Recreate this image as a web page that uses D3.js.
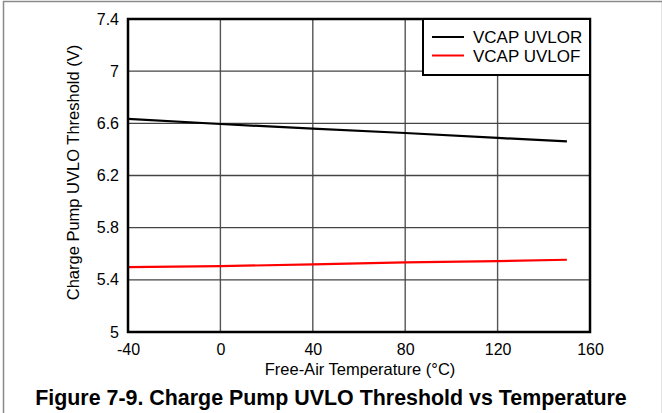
<!DOCTYPE html>
<html>
<head>
<meta charset="utf-8">
<script src="https://cdn.jsdelivr.net/npm/d3@7"></script>
<style>
  body { margin: 0; background: #fff; }
  text { font-family: Arial, "Liberation Sans", sans-serif; fill: #000; }
</style>
</head>
<body>
<div id="chart"></div>
<script>
// Data
var temps = [-40, 0, 40, 80, 120, 150];
var uvlor = [6.634, 6.595, 6.559, 6.526, 6.488, 6.462];
var uvlof = [5.498, 5.505, 5.519, 5.534, 5.544, 5.554];
var xTicks = [-40, 0, 40, 80, 120, 160];
var yTicks = [5, 5.4, 5.8, 6.2, 6.6, 7, 7.4];
var seriesNames = ["VCAP UVLOR", "VCAP UVLOF"];
var seriesColors = ["#000000", "#ff0000"];

var svgWidth = 662, svgHeight = 413;
var margin = { top: 19, right: 72, bottom: 81, left: 128 };
var width = svgWidth - margin.left - margin.right;
var height = svgHeight - margin.top - margin.bottom;

var svg = d3.select("#chart")
  .append("svg")
  .attr("width", svgWidth)
  .attr("height", svgHeight);

// outer frame
svg.append("rect")
  .attr("x", 3.5).attr("y", 1.5)
  .attr("width", svgWidth - 3).attr("height", svgHeight)
  .attr("fill", "none")
  .attr("stroke", "#8a8a8a")
  .attr("stroke-width", 1.5);

var chart = svg.append("g")
  .attr("transform", "translate(" + margin.left + "," + margin.top + ")");

var xScale = d3.scaleLinear().domain([-40, 160]).range([0, width]);
var yScale = d3.scaleLinear().domain([5, 7.4]).range([height, 0]);

// grid
chart.append("g")
  .selectAll("line")
  .data(xTicks.slice(1, -1))
  .enter().append("line")
    .attr("x1", function(d) { return xScale(d); })
    .attr("x2", function(d) { return xScale(d); })
    .attr("y1", 0).attr("y2", height)
    .attr("stroke", "#555").attr("stroke-width", 1.4);

chart.append("g")
  .selectAll("line")
  .data(yTicks.slice(1, -1))
  .enter().append("line")
    .attr("y1", function(d) { return yScale(d); })
    .attr("y2", function(d) { return yScale(d); })
    .attr("x1", 0).attr("x2", width)
    .attr("stroke", "#444").attr("stroke-width", 1.3);

// axes (labels only), plain hyphen for negatives
var bottomAxis = d3.axisBottom(xScale).tickValues(xTicks).tickSize(0).tickPadding(12)
  .tickFormat(function(d) { return String(d); });
var leftAxis = d3.axisLeft(yScale).tickValues(yTicks).tickSize(0).tickPadding(9)
  .tickFormat(function(d) { return String(d); });

var gx = chart.append("g")
  .attr("transform", "translate(0," + height + ")")
  .call(bottomAxis);
var gy = chart.append("g").call(leftAxis);
[gx, gy].forEach(function(g) {
  g.select(".domain").remove();
  g.selectAll("text")
    .style("font-size", "16px")
    .style("font-family", "Arial, 'Liberation Sans', sans-serif");
});

// series lines
var line = d3.line()
  .x(function(d) { return xScale(d[0]); })
  .y(function(d) { return yScale(d[1]); });

[uvlor, uvlof].forEach(function(vals, i) {
  chart.append("path")
    .datum(temps.map(function(t, j) { return [t, vals[j]]; }))
    .attr("d", line)
    .attr("fill", "none")
    .attr("stroke", seriesColors[i])
    .attr("stroke-width", 2.2);
});

// plot frame
chart.append("rect")
  .attr("width", width).attr("height", height)
  .attr("fill", "none")
  .attr("stroke", "#000")
  .attr("stroke-width", 2.5);

// legend
var legend = chart.append("g")
  .attr("transform", "translate(" + (width - 167) + ",0)");
legend.append("rect")
  .attr("width", 167).attr("height", 56)
  .attr("fill", "#fff")
  .attr("stroke", "#000")
  .attr("stroke-width", 2);
seriesNames.forEach(function(name, i) {
  var y = 18 + i * 18.5;
  legend.append("line")
    .attr("x1", 9).attr("x2", 41)
    .attr("y1", y).attr("y2", y)
    .attr("stroke", seriesColors[i])
    .attr("stroke-width", 2);
  legend.append("text")
    .attr("x", 50).attr("y", y + 6)
    .style("font-size", "17px")
    .text(name);
});

// axis titles
chart.append("text")
  .attr("transform", "rotate(-90)")
  .attr("x", -height / 2 + 3)
  .attr("y", -49.5)
  .attr("text-anchor", "middle")
  .style("font-size", "16.5px")
  .text("Charge Pump UVLO Threshold (V)");

chart.append("text")
  .attr("x", (262 + 458) / 2 - margin.left)
  .attr("y", height + 43)
  .attr("text-anchor", "middle")
  .style("font-size", "16.5px")
  .text("Free-Air Temperature (\u00B0C)");

svg.append("text")
  .attr("x", svgWidth / 2)
  .attr("y", 405)
  .attr("text-anchor", "middle")
  .style("font-size", "21.4px")
  .style("font-weight", "bold")
  .text("Figure 7-9. Charge Pump UVLO Threshold vs Temperature");
</script>
</body>
</html>
